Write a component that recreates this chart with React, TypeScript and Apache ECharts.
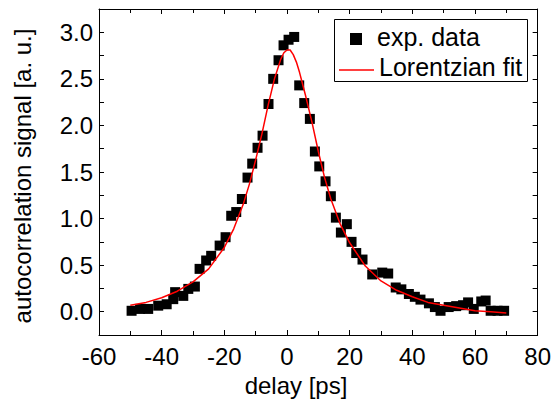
import React, { useEffect, useRef } from "react";
import * as echarts from "echarts";

const expX = [
  -49.6, -46.9, -44.3, -41.1, -38.4, -36.3, -35.7, -33.1, -31.5, -29.4, -27.9, -25.8, -24.2, -21.5,
  -19.6, -17.8, -16.2, -14.4, -12.6, -11.1, -9.4, -7.8, -5.9, -4.4, -2.7, -1.1, 0.5, 2.3,
  3.9, 5.5, 7.3, 8.9, 10.3, 12.3, 14.0, 15.6, 17.2, 19.1, 20.6, 22.1, 24.1, 27.2, 30.4, 32.3,
  34.7, 36.5, 38.9, 40.8, 42.6, 45.3, 47.2, 49.0, 51.6, 54.0, 56.2, 57.8, 59.6, 62.0, 63.4,
  65.0, 67.2, 69.3,
];
const expY = [
  0.01, 0.03, 0.03, 0.065, 0.08, 0.135, 0.21, 0.17, 0.245, 0.27, 0.46, 0.55, 0.6, 0.71,
  0.8, 1.03, 1.07, 1.21, 1.44, 1.59, 1.76, 1.89, 2.23, 2.5, 2.7, 2.86, 2.92, 2.95,
  2.43, 2.24, 2.07, 1.72, 1.56, 1.4, 1.24, 1.01, 0.85, 0.94, 0.75, 0.63, 0.56, 0.4, 0.42, 0.41,
  0.26, 0.24, 0.19, 0.16, 0.13, 0.09, 0.05, 0.01, 0.05, 0.06, 0.07, 0.1, 0.03, 0.11, 0.12,
  0.01, 0.01, 0.01,
];

const fitX = [
  -50, -45, -40, -35, -30, -25, -20, -17, -14, -12, -10, -8, -6, -4, -2, -1, 0, 1, 2, 3, 4, 6, 8,
  10, 12, 14, 17, 20, 25, 30, 35, 40, 45, 50, 55, 60, 65, 70,
];
const fitY = [
  0.07, 0.1, 0.15, 0.22, 0.32, 0.46, 0.69, 0.89, 1.15, 1.37, 1.63, 1.91, 2.22, 2.5, 2.71, 2.78,
  2.81, 2.81, 2.76, 2.68, 2.57, 2.31, 2.03, 1.72, 1.44, 1.21, 0.94, 0.74, 0.49, 0.33, 0.23,
  0.16, 0.1, 0.07, 0.04, 0.01, 0.0, -0.015,
];

const xTicks = { min: -60, max: 80, interval: 20 };
const yTicks = { min: -0.25, max: 3.25, interval: 0.25 };

const FONT = "'Liberation Sans', Arial, sans-serif";

export default function App() {
  const ref = useRef<HTMLDivElement>(null);
  useEffect(() => {
    if (!ref.current) return;
    const chart = echarts.init(ref.current, undefined, { renderer: "svg" });
    const axisLine = { show: true, onZero: false, lineStyle: { color: "#000", width: 1 } };
    const yFmt = (v: number) =>
      Math.abs(v * 2 - Math.round(v * 2)) < 1e-6 ? v.toFixed(1) : "";
    chart.setOption({
      animation: false,
      backgroundColor: "#fff",
      grid: { left: 99, right: 15, top: 9, bottom: 65, containLabel: false },
      xAxis: [
        {
          type: "value",
          position: "bottom",
          ...xTicks,
          axisLine,
          axisTick: { inside: true, length: 5, lineStyle: { color: "#000" } },
          minorTick: { show: true, splitNumber: 2, length: 4, lineStyle: { color: "#000" } },
          splitLine: { show: false },
          axisLabel: {
            color: "#000",
            fontSize: 24,
            fontFamily: FONT,
            margin: 9,
            formatter: (v: number) => String(v),
          },
        },
        {
          type: "value",
          position: "top",
          ...xTicks,
          axisLine,
          axisTick: { inside: true, length: 5, lineStyle: { color: "#000" } },
          minorTick: { show: true, splitNumber: 2, length: 4, lineStyle: { color: "#000" } },
          splitLine: { show: false },
          axisLabel: { show: false },
        },
      ],
      yAxis: [
        {
          type: "value",
          position: "left",
          ...yTicks,
          axisLine,
          axisTick: { inside: true, length: 5, lineStyle: { color: "#000" } },
          splitLine: { show: false },
          axisLabel: {
            color: "#000",
            fontSize: 24,
            fontFamily: FONT,
            margin: 6,
            formatter: yFmt,
          },
        },
        {
          type: "value",
          position: "right",
          ...yTicks,
          axisLine,
          axisTick: { inside: true, length: 5, lineStyle: { color: "#000" } },
          splitLine: { show: false },
          axisLabel: { show: false },
        },
      ],
      series: [
        {
          name: "exp. data",
          type: "scatter",
          xAxisIndex: 0,
          yAxisIndex: 0,
          symbol: "rect",
          symbolSize: 10,
          itemStyle: { color: "#000", opacity: 1 },
          data: expX.map((x, i) => [x, expY[i]]),
          z: 2,
        },
        {
          name: "Lorentzian fit",
          type: "line",
          xAxisIndex: 0,
          yAxisIndex: 0,
          showSymbol: false,
          symbol: "none",
          lineStyle: { color: "#ff0000", width: 1.5 },
          data: fitX.map((x, i) => [x, fitY[i]]),
          z: 3,
        },
      ],
      graphic: [
        {
          type: "rect",
          shape: { x: 334.5, y: 19.5, width: 193, height: 62 },
          style: { fill: "#fff", stroke: "#000", lineWidth: 1 },
          z: 10,
        },
        {
          type: "rect",
          shape: { x: 350, y: 33, width: 12, height: 12 },
          style: { fill: "#000" },
          z: 11,
        },
        {
          type: "text",
          x: 377,
          y: 37,
          style: {
            text: "exp. data",
            fill: "#000",
            fontSize: 25,
            fontFamily: FONT,
            verticalAlign: "middle",
            align: "left",
          },
          z: 11,
        },
        {
          type: "line",
          shape: { x1: 339, y1: 70, x2: 374, y2: 70 },
          style: { stroke: "#ff0000", lineWidth: 1.5 },
          z: 11,
        },
        {
          type: "text",
          x: 379,
          y: 67,
          style: {
            text: "Lorentzian fit",
            fill: "#000",
            fontSize: 25,
            fontFamily: FONT,
            verticalAlign: "middle",
            align: "left",
          },
          z: 11,
        },
        {
          type: "text",
          x: 296,
          y: 385,
          style: {
            text: "delay [ps]",
            fill: "#000",
            fontSize: 24,
            fontFamily: FONT,
            verticalAlign: "middle",
            align: "center",
          },
        },
        {
          type: "text",
          x: 22,
          y: 176,
          rotation: Math.PI / 2,
          style: {
            text: "autocorrelation signal [a. u.]",
            fill: "#000",
            fontSize: 24,
            fontFamily: FONT,
            verticalAlign: "middle",
            align: "center",
          },
        },
      ],
    });
    return () => chart.dispose();
  }, []);
  return (
    <div
      ref={ref}
      style={{ position: "fixed", left: 0, top: 0, width: 554, height: 400 }}
    />
  );
}
